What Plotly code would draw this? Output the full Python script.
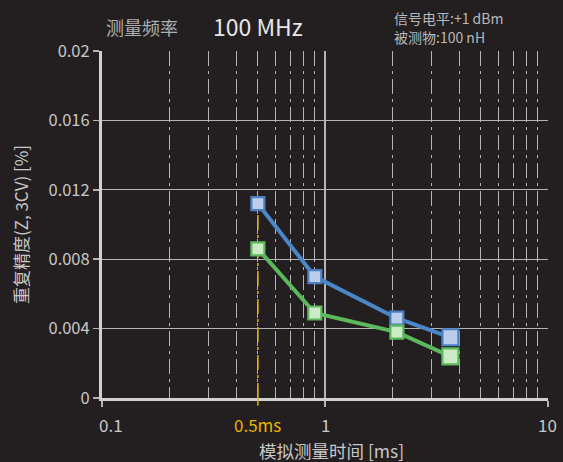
import numpy as np
import plotly.graph_objects as go

# ---- data ----
times_ms = [0.5, 0.9, 2.1, 3.65]
blue_vals = [0.0112, 0.0070, 0.0046, 0.0035]
green_vals = [0.0086, 0.0049, 0.0038, 0.0024]
marker_sizes = [13, 13, 13, 16]

y_ticks = [0, 0.004, 0.008, 0.012, 0.016, 0.02]
y_ticktext = ["0", "0.004", "0.008", "0.012", "0.016", "0.02"]
x_major = [0.1, 1, 10]
x_minor = [0.2, 0.3, 0.4, 0.5, 0.6, 0.7, 0.8, 0.9, 2, 3, 4, 5, 6, 7, 8, 9]
x_labels = [(0.1, "0.1"), (0.5, "0.5ms"), (1, "1"), (10, "10")]
marker_time = 0.5

BG = "#231f20"
GRID = "#b4b4b4"
TXT = "#c8c8c8"
YELLOW = "#e8b400"
BLUE_LINE = "#4a86c8"
BLUE_FILL = "#bccdec"
BLUE_EDGE = "#4a7fc2"
GREEN_LINE = "#5cb85c"
GREEN_FILL = "#cdeac6"
GREEN_EDGE = "#5cb85c"
FONT = "Noto Sans CJK SC"
DASH = "15px,5px,3px,5px"

L, R, T, B = 102, 15, 51, 64
W, H = 563, 462
PW, PH = W - L - R, H - T - B


def px(xp):
    return (xp - L) / PW


def py(yp):
    return (H - B - yp) / PH


fig = go.Figure()

# yellow marker line at 0.5 ms
fig.add_trace(go.Scatter(
    x=[marker_time, marker_time], y=[0, blue_vals[0]], mode="lines",
    line=dict(color=YELLOW, width=1.5, dash=DASH),
    hoverinfo="skip", showlegend=False))

fig.add_trace(go.Scatter(
    x=times_ms, y=blue_vals, mode="lines+markers",
    line=dict(color=BLUE_LINE, width=4),
    marker=dict(symbol="square", size=marker_sizes, color=BLUE_FILL, opacity=1,
                line=dict(color=BLUE_EDGE, width=2.2)),
    showlegend=False, cliponaxis=False))

fig.add_trace(go.Scatter(
    x=times_ms, y=green_vals, mode="lines+markers",
    line=dict(color=GREEN_LINE, width=4),
    marker=dict(symbol="square", size=marker_sizes, color=GREEN_FILL, opacity=1,
                line=dict(color=GREEN_EDGE, width=2.2)),
    showlegend=False, cliponaxis=False))

# yellow tick below axis
fig.add_shape(type="line", xref="x", yref="paper",
              x0=marker_time, x1=marker_time, y0=-0.022, y1=0,
              line=dict(color=YELLOW, width=1.5))

for xv, txt in x_labels:
    col = YELLOW if xv == marker_time else TXT
    xshift = 9 if xv == 0.1 else (-1 if xv == 10 else 0)
    fig.add_annotation(
        x=np.log10(xv), y=py(424.5), xref="x", yref="paper", yanchor="middle",
        xshift=xshift, text=txt, showarrow=False, borderpad=0,
        font=dict(family=FONT, size=17, color=col))

fig.add_annotation(x=px(104), y=py(27), xref="paper", yref="paper", xanchor="left",
                   yanchor="middle", showarrow=False,
                   text="测量频率", font=dict(family=FONT, size=18, color="#b0b0b0"))
fig.add_annotation(x=px(211), y=py(26), xref="paper", yref="paper", xanchor="left",
                   yanchor="middle", showarrow=False,
                   text="100 MHz", font=dict(family=FONT, size=23, color="#e6e6e6"))
fig.add_annotation(x=px(392), y=py(18), xref="paper", yref="paper", xanchor="left",
                   yanchor="middle", showarrow=False,
                   text="信号电平:+1 dBm",
                   font=dict(family=FONT, size=14, color="#b8b8b8"))
fig.add_annotation(x=px(392), y=py(37), xref="paper", yref="paper", xanchor="left",
                   yanchor="middle", showarrow=False,
                   text="被测物:100 nH",
                   font=dict(family=FONT, size=14, color="#b8b8b8"))
fig.add_annotation(x=px(331), y=py(450), xref="paper", yref="paper", xanchor="center",
                   yanchor="middle", showarrow=False, borderpad=0,
                   text="模拟测量时间 [ms]",
                   font=dict(family=FONT, size=17.5, color=TXT))

fig.update_xaxes(
    type="log", range=[-1, 1],
    tickvals=x_major, ticktext=["", "", ""],
    ticks="outside", ticklen=6, tickwidth=1.5, tickcolor=GRID,
    showgrid=True, gridcolor=GRID, gridwidth=1.2,
    minor=dict(tickvals=x_minor, showgrid=True, gridcolor=GRID, gridwidth=1.2,
               griddash=DASH, ticks=""),
    showline=True, linecolor="#d0d0d0", linewidth=3,
    zeroline=False,
)
fig.update_yaxes(
    range=[0, 0.02], tickvals=y_ticks, ticktext=y_ticktext,
    ticks="outside", ticklen=6, tickwidth=1.5, tickcolor=GRID,
    showgrid=True, gridcolor=GRID, gridwidth=1.2,
    showline=True, linecolor="#d0d0d0", linewidth=3,
    zeroline=False,
    tickfont=dict(family=FONT, size=16.5, color=TXT),
    title=dict(text="重复精度(Z, 3CV) [%]", standoff=16,
               font=dict(family=FONT, size=17, color=TXT)),
)

fig.update_layout(
    width=W, height=H,
    margin=dict(l=L, r=R, t=T, b=B),
    paper_bgcolor=BG, plot_bgcolor=BG,
    font=dict(family=FONT, color=TXT),
    showlegend=False,
    hovermode=False,
)

fig.write_html(
    "out.html",
    config={"displayModeBar": False, "staticPlot": True},
    post_script="document.body.style.margin='0';document.body.style.background='%s';" % BG,
)
